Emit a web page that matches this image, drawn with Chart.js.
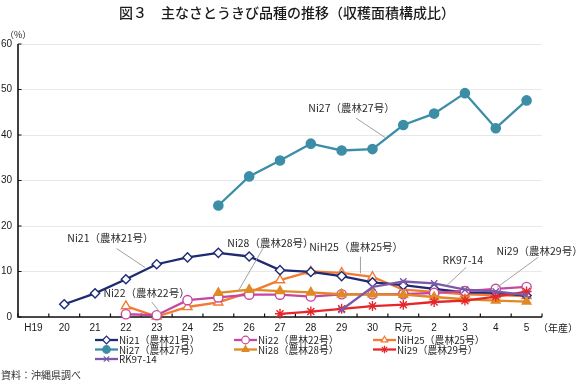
<!DOCTYPE html>
<html><head><meta charset="utf-8">
<script src="https://cdn.jsdelivr.net/npm/chart.js@4.4.0/dist/chart.umd.min.js"></script>
<style>html,body{margin:0;padding:0;background:#fff;}canvas{display:block;}</style>
</head><body>
<canvas id="c" width="580" height="384" style="width:580px;height:384px"></canvas>
<script>
const categories = ["H19","20","21","22","23","24","25","26","27","28","29","30","R元","2","3","4","5"];
const ni21  = [null, 2.8, 5.2, 8.3, 11.6, 13.1, 14.1, 13.3, 10.3, 9.9, 9.0, 7.6, 7.0, 6.2, 5.4, 5.3, 4.7];
const ni22  = [null, null, null, 0.6, 0.4, 3.7, 4.3, 4.9, 4.9, 4.5, 5.0, 5.0, 5.0, 5.3, 5.7, 6.2, 6.6];
const nih25 = [null, null, null, 2.4, 0.1, 2.2, 3.2, 5.4, 8.1, 10.0, 9.7, 8.8, 6.0, 5.5, 5.0, 4.8, 4.6];
const ni27  = [null, null, null, null, null, null, 24.5, 30.9, 34.4, 38.1, 36.6, 36.9, 42.2, 44.7, 49.2, 41.5, 47.6];
const ni28  = [null, null, null, null, null, null, 5.3, 6.0, 5.7, 5.4, 5.0, 5.0, 4.9, 4.4, 3.9, 3.6, 3.4];
const ni29  = [null, null, null, null, null, null, null, null, 0.7, 1.2, 1.8, 2.4, 2.7, 3.3, 3.6, 4.5, 5.6];
const rk9714 = [null, null, null, null, null, null, null, null, null, null, 1.6, 6.6, 7.8, 7.4, 6.0, 5.6, 4.8];
const yTicks = [0, 10, 20, 30, 40, 50, 60];

const seriesNames = ["Ni21（農林21号）","Ni22（農林22号）","NiH25（農林25号）","Ni27（農林27号）","Ni28（農林28号）","Ni29（農林29号）","RK97-14"];
const titleText = "図３　主なさとうきび品種の推移（収穫面積構成比）";
const unitText = "（%）";
const xUnitText = "（年産）";
const sourceText = "資料：沖縄県調べ";

// annotations in data space: label centre (idx, value), leader from (a) to (b)
const annotations = [
  {text:"Ni27（農林27号）", x:10.32, y:45.9, a:[10.47,43.7], b:[11.42,39.4]},
  {text:"Ni21（農林21号）", x:2.50, y:17.3, a:[2.70,15.05], b:[3.62,10.87]},
  {text:"Ni22（農林22号）", x:3.67, y:5.2, a:[3.84,3.3], b:[4.14,0.75]},
  {text:"Ni28（農林28号）", x:7.69, y:16.2, a:[7.45,15.1], b:[6.64,5.65]},
  {text:"NiH25（農林25号）", x:10.47, y:15.4, a:[10.61,13.25], b:[10.61,9.6]},
  {text:"RK97-14", x:13.93, y:12.6, a:[14.04,10.9], b:[13.42,7.0]},
  {text:"Ni29（農林29号）", x:16.42, y:14.5, a:[16.37,13.1], b:[15.04,6.5]}
];

const CJK = "'Noto Sans CJK JP', 'Liberation Sans', sans-serif";
const SANS = "'Liberation Sans', 'Noto Sans CJK JP', sans-serif";

function ds(label, data, color, style, open, r) {
  return {
    label, data, borderColor: color,
    backgroundColor: open ? '#ffffff' : color,
    pointBorderColor: color,
    pointBackgroundColor: open ? '#ffffff' : color,
    pointStyle: style, pointRadius: r, pointBorderWidth: 1.4,
    borderWidth: 2.3, tension: 0, spanGaps: false, clip: false, fill: false
  };
}

const datasets = [
  ds(seriesNames[6], rk9714, '#7b5aa8', 'crossRot', true, 4.5),
  ds(seriesNames[5], ni29, '#e6262b', 'star', true, 5),
  ds(seriesNames[4], ni28, '#df8a26', 'triangle', false, 5),
  ds(seriesNames[1], ni22, '#c6479f', 'circle', true, 4.6),
  ds(seriesNames[0], ni21, '#1e2b73', 'rectRot', true, 4.6),
  ds(seriesNames[2], nih25, '#f27a32', 'triangle', true, 5.2),
  ds(seriesNames[3], ni27, '#3b8ea6', 'circle', false, 4.6)
];

const legendOrder = [
  {name: seriesNames[0], col:0, row:0},
  {name: seriesNames[1], col:1, row:0},
  {name: seriesNames[2], col:2, row:0},
  {name: seriesNames[3], col:0, row:1},
  {name: seriesNames[4], col:1, row:1},
  {name: seriesNames[5], col:2, row:1},
  {name: seriesNames[6], col:0, row:2}
];

const extras = {
  id: 'extras',
  beforeDatasetsDraw(chart) {
    const ctx = chart.ctx, a = chart.chartArea;
    const ys = chart.scales.y;
    ctx.save();
    ctx.strokeStyle = '#111';
    ctx.lineWidth = 1.6;
    ctx.beginPath();
    ctx.moveTo(a.left, a.top); ctx.lineTo(a.left, a.bottom); ctx.lineTo(a.right, a.bottom);
    ctx.stroke();
    ctx.lineWidth = 1.2;
    ctx.beginPath();
    yTicks.forEach(v => { const y = ys.getPixelForValue(v); ctx.moveTo(a.left, y); ctx.lineTo(a.left + 3.5, y); });
    const step = (a.right - a.left) / categories.length;
    for (let i = 0; i <= categories.length; i++) {
      const x = a.left + i * step; ctx.moveTo(x, a.bottom); ctx.lineTo(x, a.bottom - 3.5);
    }
    ctx.stroke();
    ctx.restore();
  },
  afterDraw(chart) {
    const ctx = chart.ctx;
    const xs = chart.scales.x, ys = chart.scales.y;
    ctx.save();
    // title
    ctx.fillStyle = '#1a1a1a';
    ctx.font = "500 14px " + CJK;
    ctx.textAlign = 'center'; ctx.textBaseline = 'middle';
    ctx.fillText(titleText, 287, 13);
    // units
    ctx.font = "9px " + CJK;
    ctx.textAlign = 'left';
    ctx.fillText(unitText, 5, 35);
    ctx.font = "10px " + CJK;
    ctx.fillText(xUnitText, 538, 328);
    // source
    ctx.font = "10px " + CJK;
    ctx.fillStyle = '#333';
    ctx.fillText(sourceText, 1, 375);
    // annotations
    ctx.strokeStyle = '#a0a0a0'; ctx.lineWidth = 1;
    ctx.fillStyle = '#2a2a2a';
    ctx.font = "10.5px " + CJK;
    ctx.textAlign = 'center';
    annotations.forEach(n => {
      ctx.beginPath();
      ctx.moveTo(xs.getPixelForValue(n.a[0]), ys.getPixelForValue(n.a[1]));
      ctx.lineTo(xs.getPixelForValue(n.b[0]), ys.getPixelForValue(n.b[1]));
      ctx.stroke();
      ctx.fillText(n.text, xs.getPixelForValue(n.x), ys.getPixelForValue(n.y));
    });
    // legend
    const colX = [95, 234, 373], rowY = [340, 349.5, 359];
    ctx.font = "9.8px " + CJK;
    ctx.textAlign = 'left';
    legendOrder.forEach(e => {
      const d = chart.data.datasets.find(s => s.label === e.name);
      const x0 = colX[e.col], y = rowY[e.row];
      ctx.strokeStyle = d.borderColor; ctx.lineWidth = 2.3;
      ctx.beginPath(); ctx.moveTo(x0, y); ctx.lineTo(x0 + 23, y); ctx.stroke();
      ctx.fillStyle = d.pointBackgroundColor; ctx.strokeStyle = d.borderColor; ctx.lineWidth = 1.2;
      Chart.helpers.drawPoint(ctx, {pointStyle: d.pointStyle, radius: 3.8, rotation: 0, borderWidth: 1.2}, x0 + 11.5, y);
      ctx.fillStyle = '#222';
      ctx.fillText(e.name, x0 + 24, y + 0.5);
    });
    ctx.restore();
  }
};

new Chart(document.getElementById('c'), {
  type: 'line',
  data: { labels: categories, datasets },
  options: {
    responsive: false, animation: false, devicePixelRatio: 1,
    layout: { padding: { top: 44, right: 38, left: 0, bottom: 0 } },
    plugins: { legend: { display: false }, tooltip: { enabled: false }, title: { display: false } },
    scales: {
      x: {
        type: 'category', offset: true,
        grid: { display: false, drawTicks: false },
        border: { display: false },
        ticks: { autoSkip: false, maxRotation: 0, padding: 5, color: '#1a1a1a', font: { family: SANS, size: 10 } },
        afterFit(s) { s.height = 67; }
      },
      y: {
        min: 0, max: 60,
        afterBuildTicks(s) { s.ticks = yTicks.map(v => ({ value: v })); },
        grid: { color: '#e8e8e8', lineWidth: 1, drawTicks: false },
        border: { display: false },
        ticks: { padding: 6, color: '#1a1a1a', font: { family: SANS, size: 10 } },
        afterFit(s) { s.width = 18; }
      }
    }
  },
  plugins: [extras]
});
</script>
</body></html>
